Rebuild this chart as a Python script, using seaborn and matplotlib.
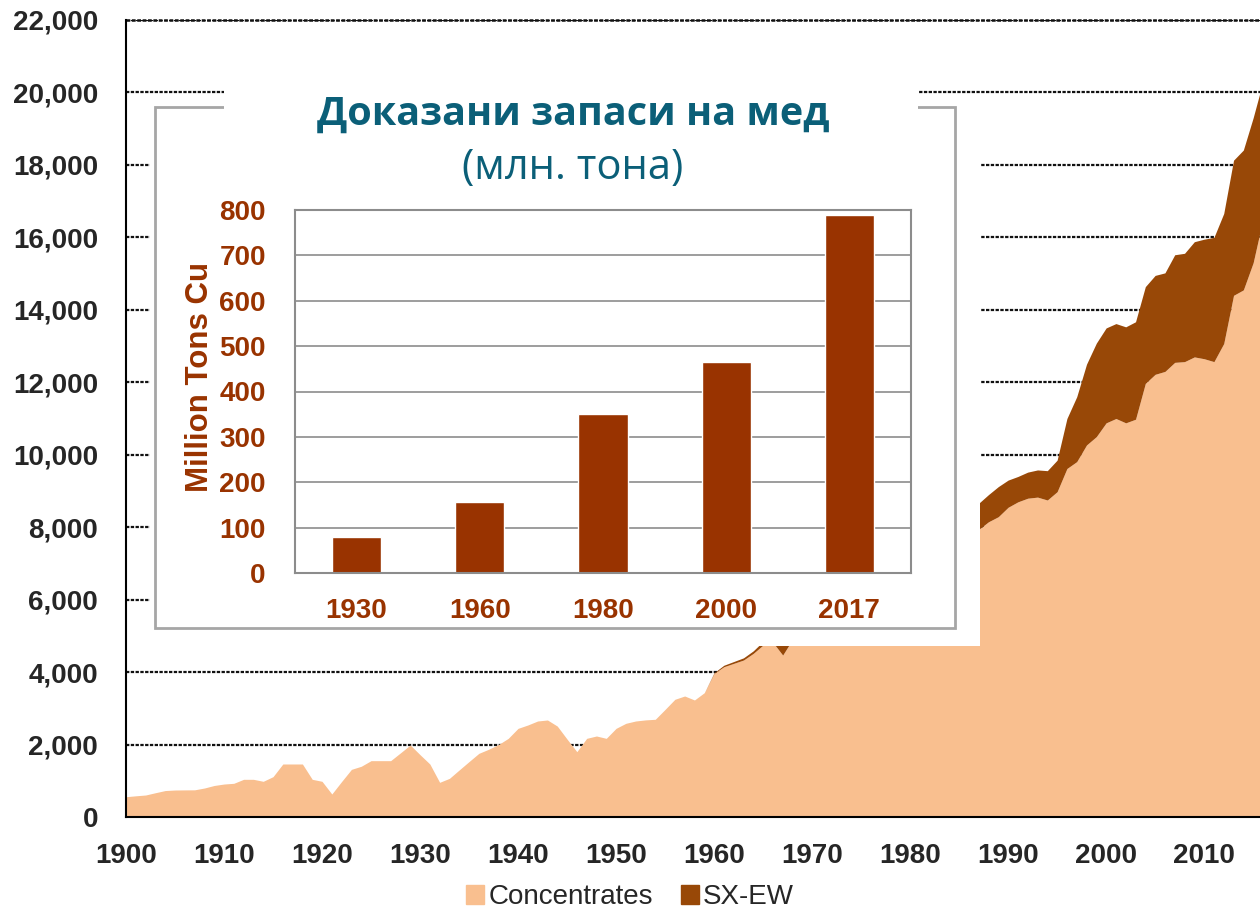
import matplotlib
matplotlib.use("Agg")
import matplotlib.pyplot as plt
from matplotlib.patches import Rectangle, Patch
from matplotlib.ticker import FuncFormatter
import seaborn as sns

# world copper mine production, thousand tonnes
years = list(range(1900, 2017))
concentrates = [
    560, 585, 607, 670, 730, 745, 748, 750, 800, 870,          # 1900s
    910, 930, 1040, 1040, 985, 1113, 1463, 1463, 1463, 1040,   # 1910s
    985, 635, 980, 1315, 1400, 1555, 1555, 1555, 1770, 1987,   # 1920s
    1720, 1463, 957, 1067, 1300, 1530, 1757, 1870, 2000, 2171, # 1930s
    2447, 2540, 2650, 2678, 2510, 2150, 1803, 2171, 2236, 2171,  # 1940s
    2447, 2586, 2650, 2680, 2697, 2970, 3249, 3340, 3230, 3431,  # 1950s
    3965, 4149, 4241, 4333, 4517, 4747, 4820, 4470, 4900, 5200,  # 1960s
    5500, 5550, 6000, 6300, 6400, 6200, 6500, 6600, 6700, 6800,  # 1970s
    6700, 7000, 7100, 7000, 7100, 7300, 7400, 7940, 8150, 8290,  # 1980s
    8550, 8700, 8800, 8830, 8750, 8980, 9620, 9810, 10270, 10500,  # 1990s
    10880, 11000, 10880, 10980, 11970, 12220, 12300, 12550, 12570, 12700,  # 2000s
    12650, 12570, 13070, 14400, 14550, 15300, 16500,  # 2010s
]
sxew = [0] * 60 + [
    20, 40, 50, 60, 70, 100, 150, 300, 250, 250,      # 1960s
    250, 250, 280, 300, 300, 300, 300, 300, 300, 320,  # 1970s
    350, 380, 400, 420, 450, 500, 600, 720, 750, 830,  # 1980s
    750, 700, 720, 750, 810, 870, 1380, 1790, 2230, 2580,  # 1990s
    2620, 2620, 2650, 2690, 2670, 2730, 2720, 2970, 2990, 3180,  # 2000s
    3300, 3430, 3590, 3730, 3860, 4000, 3800,  # 2010s
]
series_names = ["Concentrates", "SX-EW"]

# proven copper reserves, million tons
reserve_years = ["1930", "1960", "1980", "2000", "2017"]
reserves = [80, 157, 350, 466, 790]

title = "Доказани запаси на мед"
subtitle = "(млн. тона)"

peach = "#F9BF8F"
brown = "#984807"
bar_color = "#993300"
teal = "#0B5F78"
gray = "#8C8C8C"

sns.set_style("white")
plt.rcParams["font.family"] = ["Liberation Sans", "DejaVu Sans"]

W, H = 1260, 909
fig = plt.figure(figsize=(W / 100, H / 100), dpi=100)


def fx(px):
    return px / W


def fy(py):
    return 1 - py / H


# main area chart
ax = fig.add_axes([fx(126), fy(817), 1 - fx(126), fy(20) - fy(817)])
ax.stackplot(years, concentrates, sxew, colors=[peach, brown], labels=series_names, linewidth=0)
ax.set_xlim(1900, 2015.7)
ax.set_ylim(0, 22000)
ax.set_xticks(range(1900, 2011, 10))
ax.set_yticks(range(0, 22001, 2000))
ax.yaxis.set_major_formatter(FuncFormatter(lambda v, p: f"{int(v):,}"))
dash = (0, (1.5, 0.65))
ax.yaxis.grid(True, color="#111111", linestyle=dash, linewidth=1.6)
ax.axhline(22000, color="#111111", linestyle=dash, linewidth=1.8, clip_on=False)
ax.set_axisbelow(True)
for s in ["top", "right"]:
    ax.spines[s].set_visible(False)
for s in ["left", "bottom"]:
    ax.spines[s].set_color("black")
    ax.spines[s].set_linewidth(1.5)
ax.tick_params(axis="y", direction="out", length=6, width=1.5, color="black", labelsize=20, pad=14)
ax.tick_params(axis="x", direction="out", length=5, width=1.5, color="black", labelsize=20, pad=14)
for lab in ax.get_xticklabels() + ax.get_yticklabels():
    lab.set_fontweight("bold")

handles = [Patch(color=peach, label=series_names[0]), Patch(color=brown, label=series_names[1])]
fig.legend(handles=handles, loc="center", bbox_to_anchor=(fx(630), fy(897)), ncol=2, frameon=False,
           fontsize=20, handlelength=0.65, handleheight=0.65, handletextpad=0.15, columnspacing=1.0,
           borderpad=0)

# inset: white background, frame and title box
fig.add_artist(Rectangle((fx(150), fy(646)), fx(830), 546 / H, transform=fig.transFigure,
                         facecolor="white", edgecolor="none", zorder=2))
fig.add_artist(Rectangle((fx(155), fy(628)), fx(800), 521 / H, transform=fig.transFigure,
                         facecolor="none", edgecolor="#A6A6A6", linewidth=2, zorder=3))
fig.add_artist(Rectangle((fx(224), fy(150)), fx(694), 68 / H, transform=fig.transFigure,
                         facecolor="white", edgecolor="none", zorder=5))
fig.text(fx(573), fy(114), title, ha="center", va="center", fontsize=28.5, fontweight="bold",
         color=teal, family=["Open Sans", "DejaVu Sans"], zorder=6)
fig.text(fx(573), fy(168), subtitle, ha="center", va="center", fontsize=30,
         color=teal, family=["Open Sans", "DejaVu Sans"], zorder=6)

# inset bar chart
ax_in = fig.add_axes([fx(295), fy(573), fx(616), 363 / H], zorder=4)
ax_in.patch.set_alpha(0)
sns.barplot(x=reserve_years, y=reserves, color=bar_color, saturation=1, width=0.4, ax=ax_in)
ax_in.set_xlim(-0.5, len(reserve_years) - 0.5)
ax_in.set_ylim(0, 800)
ax_in.set_yticks(range(0, 801, 100))
ax_in.yaxis.grid(True, color=gray, linewidth=1.2)
ax_in.set_axisbelow(True)
for s in ax_in.spines.values():
    s.set_visible(True)
    s.set_color(gray)
    s.set_linewidth(1.5)
ax_in.set_xticks([i - 0.5 for i in range(len(reserve_years) + 1)], minor=True)
ax_in.tick_params(axis="x", which="minor", direction="out", length=5, width=1.5, color=gray)
ax_in.tick_params(axis="x", which="major", length=0, pad=18, labelsize=20, labelcolor=bar_color)
ax_in.tick_params(axis="y", direction="out", length=5, width=1.5, color=gray, pad=16,
                  labelsize=20, labelcolor=bar_color)
for lab in ax_in.get_xticklabels() + ax_in.get_yticklabels():
    lab.set_fontweight("bold")
ax_in.set_xlabel("")
ax_in.set_ylabel("Million Tons Cu", fontsize=22.5, fontweight="bold", color=bar_color)
ax_in.yaxis.set_label_coords(-0.13, 0.54)

fig.savefig("out.png", dpi=100)
